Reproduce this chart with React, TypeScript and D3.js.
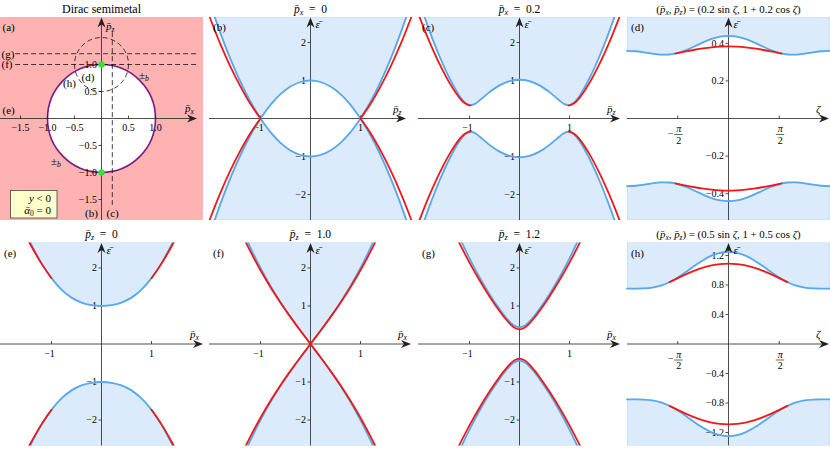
import React from 'react';
import * as d3 from 'd3';

type Pt = [number, number];

// ================= DATA =================
// (b) p̄x = 0 : bulk band edge and surface band vs p̄z (p̄z >= 0 half)
const bInnerPz = [0, 0.2, 0.4, 0.6, 0.8, 1.0];
const bInnerE = [1.0, 0.96, 0.84, 0.64, 0.36, 0.0];
const bOuterPz = [1.0, 1.2, 1.4, 1.6, 1.8, 2.0, 2.1];
const bOuterE = [0.0, 0.44, 0.96, 1.56, 2.24, 3.0, 3.41];
const bSurfPz = [1.0, 1.2, 1.4, 1.6, 1.8, 2.0, 2.1];
const bSurfE = [0.0, 0.38, 0.84, 1.36, 1.95, 2.61, 2.97];

// (c) p̄x = 0.2
const cPz = [0, 0.2, 0.4, 0.6, 0.8, 0.9, 1.0, 1.1, 1.2, 1.4, 1.6, 1.8, 2.0, 2.1];
const cE = [1.02, 0.983, 0.872, 0.693, 0.472, 0.378, 0.349, 0.427, 0.592, 1.058, 1.637, 2.306, 3.06, 3.467];
const cSurfPz = [0.98, 1.0, 1.1, 1.2, 1.4, 1.6, 1.8, 2.0, 2.1];
const cSurfE = [0.346, 0.348, 0.409, 0.543, 0.938, 1.437, 2.018, 2.673, 3.028];

// (d) loop of radius 0.2 around the node, vs ζ (ζ >= 0 half)
const zeta = [0, 0.2618, 0.5236, 0.7854, 1.0472, 1.309, 1.5708, 1.8326, 2.0944, 2.3562, 2.618, 2.8798, 3.1416];
const dE = [0.44, 0.4357, 0.4234, 0.4052, 0.3842, 0.3641, 0.3487, 0.3406, 0.34, 0.345, 0.352, 0.3578, 0.36];
const dSurfZeta = [0, 0.2618, 0.5236, 0.7854, 1.0472, 1.309, 1.5708, 1.64];
const dSurfE = [0.3836, 0.3824, 0.3788, 0.3731, 0.3658, 0.3573, 0.3481, 0.3457];

// (e) p̄z = 0, vs p̄x
const ePx = [0, 0.2, 0.4, 0.6, 0.8, 1.0, 1.2, 1.4, 1.45];
const eE = [1.0, 1.021, 1.089, 1.22, 1.432, 1.732, 2.125, 2.608, 2.743];
const eSurfPx = [1.0, 1.2, 1.4, 1.45];
const eSurfE = [1.732, 2.114, 2.565, 2.689];

// (f) p̄z = 1.0
const fPx = [0, 0.2, 0.4, 0.6, 0.8, 1.0, 1.2, 1.3];
const fE = [0, 0.349, 0.711, 1.1, 1.526, 2.0, 2.529, 2.815];
const fSurfE = [0, 0.348, 0.707, 1.086, 1.494, 1.939, 2.428, 2.691];

// (g) p̄z = 1.2
const gPx = [0, 0.1, 0.2, 0.3, 0.4, 0.6, 0.8, 1.0, 1.22];
const gE = [0.44, 0.482, 0.592, 0.742, 0.917, 1.312, 1.757, 2.253, 2.861];
const gSurfE = [0.384, 0.429, 0.543, 0.695, 0.868, 1.252, 1.675, 2.139, 2.7];

// (h) loop of radius 0.5 around the node, vs ζ
const hE = [1.25, 1.2364, 1.1971, 1.1362, 1.0607, 0.9791, 0.9014, 0.8366, 0.7906, 0.7641, 0.753, 0.7501, 0.75];
const hSurfZeta = [0, 0.2618, 0.5236, 0.7854, 1.0472, 1.309, 1.5708, 1.8235];
const hSurfE = [1.0897, 1.0834, 1.0649, 1.035, 0.995, 0.9469, 0.893, 0.8385];

// ticks
const pYTicks = [-2, -1, 1, 2];
const pXTicks = [-1, 1];
const dYTicks = [-0.4, -0.2, 0.2, 0.4];
const hYTicks = [-1.2, -0.8, -0.4, 0.4, 0.8, 1.2];
const zetaTicks = [-1.5708, 1.5708];

// panel (a)
const aTicks = [-1.5, -1.0, -0.5, 0.5, 1.0];
const aCutPz = [1.2, 1.0]; // cuts (g), (f)
const aCutPx = [0.2]; // cut (c)
const aLoopR = 0.5; // loop (h)
const aNodes = [1, -1];

// ================= STYLE / LAYOUT =================
const FONT = "'Liberation Serif', 'DejaVu Serif', serif";
const BLUE = '#58a8ee';
const RED = '#f01818';
const FILL = '#dcebfb';
const FILLEDGE = '#bcd9f6';
const AXIS = '#222';
const PW = 203;
const PH = 203;
const COLS = [0, 209, 418, 627];
const ROWS = [17, 242.5];
const TICK_FS = 10;

const zip = (p: number[], e: number[]): Pt[] => p.map((v, i) => [v, e[i]] as Pt);
const mirrorLeft = (pts: Pt[]): Pt[] => pts.map(([p, e]) => [-p, e] as Pt).reverse();
const mirrorFull = (pts: Pt[]): Pt[] => [...mirrorLeft(pts.filter(([p]) => p > 0)), ...pts];
const neg = (seg: Pt[]): Pt[] => seg.map(([p, e]) => [p, -e] as Pt);

const fmt1 = d3.format('.1f');
const fmt0 = d3.format('d');

function PB({ s, after }: { s: string; after?: string }) {
  return (
    <>
      <tspan fontStyle="italic">p{'\u0304'}</tspan>
      <tspan fontStyle="italic" fontSize="70%" dy={2.2}>{s}</tspan>
      {after ? <tspan dy={-2.2}>{after}</tspan> : null}
    </>
  );
}

function Arrow({ x, y, dir }: { x: number; y: number; dir: 'r' | 'u' }) {
  const d =
    dir === 'r'
      ? `M${x},${y}L${x - 10},${y - 4}L${x - 7},${y}L${x - 10},${y + 4}Z`
      : `M${x},${y}L${x - 4},${y + 10}L${x},${y + 7}L${x + 4},${y + 10}Z`;
  return <path d={d} fill={AXIS} />;
}

interface BandProps {
  id: string;
  col: number;
  row: number;
  xDom: [number, number];
  yDom: [number, number];
  upper: Pt[][];
  red: Pt[][];
  xTicks: number[];
  yTicks: number[];
  fmtY: (v: number) => string;
  zetaAxis?: boolean;
  tipX: number;
  tag: string;
  title: React.ReactNode;
  titleSize: number;
  xLabel: React.ReactNode;
}

function Band(p: BandProps) {
  const left = COLS[p.col];
  const top = ROWS[p.row];
  const x = d3.scaleLinear().domain(p.xDom).range([left, left + PW]);
  const y = d3.scaleLinear().domain(p.yDom).range([top + PH, top]);
  const line = d3
    .line<Pt>()
    .x((d) => x(d[0]))
    .y((d) => y(d[1]))
    .curve(d3.curveCatmullRom.alpha(0.5));
  const chain = (segs: Pt[][]) =>
    segs.map((s, i) => { const d = line(s) as string; return i === 0 ? d : 'L' + d.slice(1); }).join('');
  const first = p.upper[0][0][0];
  const lastSeg = p.upper[p.upper.length - 1];
  const last = lastSeg[lastSeg.length - 1][0];
  const yT = y(p.yDom[1]);
  const yB = y(p.yDom[0]);
  const lower = p.upper.map(neg);
  const redLow = p.red.map(neg);
  const fillUp = chain(p.upper) + `L${x(last)},${yT}L${x(first)},${yT}Z`;
  const fillDn = chain(lower) + `L${x(last)},${yB}L${x(first)},${yB}Z`;
  const x0 = x(0);
  const y0 = y(0);
  return (
    <g>
      <defs>
        <clipPath id={p.id + 'f'}>
          <rect x={left} y={top} width={PW} height={PH} />
        </clipPath>
        <clipPath id={p.id + 'l'}>
          <rect x={left - 8} y={top} width={PW + 16} height={PH} />
        </clipPath>
      </defs>
      <g clipPath={`url(#${p.id}f)`}>
        <path d={fillUp} fill={FILL} stroke={FILLEDGE} strokeWidth={1.2} />
        <path d={fillDn} fill={FILL} stroke={FILLEDGE} strokeWidth={1.2} />
      </g>
      {/* axes */}
      <line x1={left} x2={p.tipX - 6} y1={y0} y2={y0} stroke={AXIS} strokeWidth={0.8} />
      <line x1={x0} x2={x0} y1={top + PH} y2={top + 6} stroke={AXIS} strokeWidth={0.8} />
      {p.yTicks.map((v) => (
        <g key={'y' + v}>
          <line x1={x0 - 3} x2={x0} y1={y(v)} y2={y(v)} stroke={AXIS} strokeWidth={0.8} />
          <text x={x0 - 4.5} y={y(v) + 3.3} fontSize={TICK_FS} textAnchor="end">{p.fmtY(v)}</text>
        </g>
      ))}
      {p.xTicks.map((v) => (
        <g key={'x' + v}>
          <line x1={x(v)} x2={x(v)} y1={y0 - 3} y2={y0} stroke={AXIS} strokeWidth={0.8} />
          {p.zetaAxis ? (
            <g>
              {v < 0 && (
                <text x={x(v) - 4} y={y0 + 18} fontSize={TICK_FS} textAnchor="end">{'\u2212'}</text>
              )}
              <text x={x(v) + 1} y={y0 + 13.5} fontSize={TICK_FS} textAnchor="middle" fontStyle="italic">π</text>
              <line x1={x(v) - 3.5} x2={x(v) + 5} y1={y0 + 16} y2={y0 + 16} stroke="#000" strokeWidth={0.6} />
              <text x={x(v) + 1} y={y0 + 25} fontSize={TICK_FS} textAnchor="middle">2</text>
            </g>
          ) : (
            <text x={x(v) - (v < 0 ? 2 : 0)} y={y0 + 12.5} fontSize={TICK_FS} textAnchor="middle">{fmt0(v)}</text>
          )}
        </g>
      ))}
      {/* curves */}
      <g clipPath={`url(#${p.id}l)`} fill="none" strokeLinecap="round">
        {[...p.upper, ...lower].map((s, i) => (
          <path key={'b' + i} d={line(s) as string} stroke={BLUE} strokeWidth={1.8} />
        ))}
        {[...p.red, ...redLow].map((s, i) => (
          <path key={'r' + i} d={line(s) as string} stroke={RED} strokeWidth={1.8} />
        ))}
      </g>
      <Arrow x={p.tipX} y={y0} dir="r" />
      <Arrow x={x0} y={top + 0.5} dir="u" />
      <text x={p.tipX - 13} y={y0 - 6} fontSize={11}>{p.xLabel}</text>
      <text x={x0 + 5} y={top + 11} fontSize={11} fontStyle="italic">{'ε\u0304'}</text>
      <text x={left + PW / 2} y={top - 4.5} fontSize={p.titleSize} textAnchor="middle">{p.title}</text>
      <text x={left + 4} y={top + 14} fontSize={11}>{p.tag}</text>
    </g>
  );
}

function PanelA() {
  const left = COLS[0];
  const top = ROWS[0];
  const x = d3.scaleLinear().domain([-1.88, 1.88]).range([left, left + PW]);
  const y = d3.scaleLinear().domain([-1.88, 1.88]).range([top + PH, top]);
  const x0 = x(0);
  const y0 = y(0);
  const r1 = x(1) - x0;
  const dash = '5,3';
  return (
    <g>
      <rect x={left} y={top} width={PW} height={PH} fill="#ffb2b2" />
      <circle cx={x0} cy={y0} r={r1} fill="#fff" stroke="#7a1a8a" strokeWidth={1.6} />
      <line x1={left} x2={191} y1={y0} y2={y0} stroke={AXIS} strokeWidth={0.8} />
      <line x1={x0} x2={x0} y1={top + PH} y2={top + 6} stroke={AXIS} strokeWidth={0.8} />
      {aTicks.map((v) => (
        <g key={'ax' + v}>
          <line x1={x(v)} x2={x(v)} y1={y0 - 3} y2={y0} stroke={AXIS} strokeWidth={0.8} />
          <text x={x(v)} y={y0 + 12.5} fontSize={TICK_FS} textAnchor="middle">{fmt1(v)}</text>
          <line x1={x0 - 3} x2={x0} y1={y(v)} y2={y(v)} stroke={AXIS} strokeWidth={0.8} />
          <text x={x0 - 4.5} y={y(v) + 3.3} fontSize={TICK_FS} textAnchor="end">{fmt1(v)}</text>
        </g>
      ))}
      <g fill="none" stroke="#111" strokeWidth={0.8} strokeDasharray={dash}>
        {aCutPz.map((v) => (
          <line key={'hz' + v} x1={x(-1.6)} x2={x(1.77)} y1={y(v)} y2={y(v)} />
        ))}
        {aCutPx.map((v) => (
          <line key={'vx' + v} x1={x(v)} x2={x(v)} y1={y(1.6)} y2={y(-1.6)} />
        ))}
        <circle cx={x(0)} cy={y(1)} r={x(aLoopR) - x0} />
      </g>
      {aNodes.map((v) => (
        <circle key={'n' + v} cx={x0} cy={y(v)} r={3.2} fill="#2ee82e" />
      ))}
      <Arrow x={197} y={y0} dir="r" />
      <Arrow x={x0} y={top + 0.5} dir="u" />
      <text x={106} y={30} fontSize={11}><PB s="z" /></text>
      <text x={185} y={112} fontSize={11}><PB s="x" /></text>
      <text x={x0} y={13} fontSize={12} textAnchor="middle">Dirac semimetal</text>
      <g fontSize={11}>
        <text x={2.5} y={31}>(a)</text>
        <text x={1.5} y={y(1.2) + 3.8}>(g)</text>
        <text x={1.5} y={y(1.0) + 3.8}>(f)</text>
        <text x={2.5} y={y0 - 5}>(e)</text>
        <text x={63} y={87}>(h)</text>
        <text x={81.5} y={80.5}>(d)</text>
        <text x={85} y={216.5}>(b)</text>
        <text x={106.5} y={216.5}>(c)</text>
        <text x={139} y={79}>±<tspan fontStyle="italic" fontSize="70%" dy={2}>b</tspan></text>
        <text x={51} y={165}>±<tspan fontStyle="italic" fontSize="70%" dy={2}>b</tspan></text>
      </g>
      <rect x={10.5} y={190.5} width={46.5} height={27.5} fill="#ffffcc" stroke="#444" strokeWidth={0.8} />
      <text x={51} y={201.5} fontSize={11} textAnchor="end">
        <tspan fontStyle="italic">y</tspan> {'<'} 0
      </text>
      <text x={51} y={214} fontSize={11} textAnchor="end">
        <tspan fontStyle="italic">α{'\u0304'}</tspan>
        <tspan fontSize="70%" dy={2}>0</tspan>
        <tspan dy={-2}> = 0</tspan>
      </text>
    </g>
  );
}

const PDOM: [number, number] = [-2.03, 2.03];
const EDOM: [number, number] = [-2.67, 2.67];
const ZDOM: [number, number] = [-3.1416, 3.1416];

const bOuter = zip(bOuterPz, bOuterE);
const bSurf = zip(bSurfPz, bSurfE);
const cSurf = zip(cSurfPz, cSurfE);
const eSurf = zip(eSurfPx, eSurfE);
const fBulk = zip(fPx, fE);
const fSurf = zip(fPx, fSurfE);

const loopTitle = (r: string) => (
  <>
    <tspan>(</tspan>
    <PB s="x" after=", " />
    <PB s="z" after={`) = (${r} sin `} />
    <tspan fontStyle="italic">ζ</tspan>
    <tspan>{`, 1 + ${r} cos `}</tspan>
    <tspan fontStyle="italic">ζ</tspan>
    <tspan>)</tspan>
  </>
);

const panels: BandProps[] = [
  {
    id: 'pb', col: 1, row: 0, xDom: PDOM, yDom: EDOM,
    upper: [mirrorLeft(bOuter), mirrorFull(zip(bInnerPz, bInnerE)), bOuter],
    red: [mirrorLeft(bSurf), bSurf],
    xTicks: pXTicks, yTicks: pYTicks, fmtY: fmt0, tipX: 406, tag: '(b)',
    title: <PB s="x" after={'\u2002=\u20020'} />, titleSize: 11.5, xLabel: <PB s="z" />,
  },
  {
    id: 'pc', col: 2, row: 0, xDom: PDOM, yDom: EDOM,
    upper: [mirrorFull(zip(cPz, cE))],
    red: [mirrorLeft(cSurf), cSurf],
    xTicks: pXTicks, yTicks: pYTicks, fmtY: fmt0, tipX: 620, tag: '(c)',
    title: <PB s="x" after={'\u2002=\u20020.2'} />, titleSize: 11.5, xLabel: <PB s="z" />,
  },
  {
    id: 'pd', col: 3, row: 0, xDom: ZDOM, yDom: [-0.54, 0.54],
    upper: [mirrorFull(zip(zeta, dE))],
    red: [mirrorFull(zip(dSurfZeta, dSurfE))],
    xTicks: zetaTicks, yTicks: dYTicks, fmtY: fmt1, zetaAxis: true, tipX: 829, tag: '(d)',
    title: loopTitle('0.2'), titleSize: 10.8,
    xLabel: <tspan fontStyle="italic">ζ</tspan>,
  },
  {
    id: 'pe', col: 0, row: 1, xDom: PDOM, yDom: EDOM,
    upper: [mirrorFull(zip(ePx, eE))],
    red: [mirrorLeft(eSurf), eSurf],
    xTicks: pXTicks, yTicks: pYTicks, fmtY: fmt0, tipX: 203, tag: '(e)',
    title: <PB s="z" after={'\u2002=\u20020'} />, titleSize: 11.5, xLabel: <PB s="x" />,
  },
  {
    id: 'pf', col: 1, row: 1, xDom: PDOM, yDom: EDOM,
    upper: [mirrorLeft(fBulk), fBulk],
    red: [mirrorLeft(fSurf), fSurf],
    xTicks: pXTicks, yTicks: pYTicks, fmtY: fmt0, tipX: 411, tag: '(f)',
    title: <PB s="z" after={'\u2002=\u20021.0'} />, titleSize: 11.5, xLabel: <PB s="x" />,
  },
  {
    id: 'pg', col: 2, row: 1, xDom: PDOM, yDom: EDOM,
    upper: [mirrorFull(zip(gPx, gE))],
    red: [mirrorFull(zip(gPx, gSurfE))],
    xTicks: pXTicks, yTicks: pYTicks, fmtY: fmt0, tipX: 620, tag: '(g)',
    title: <PB s="z" after={'\u2002=\u20021.2'} />, titleSize: 11.5, xLabel: <PB s="x" />,
  },
  {
    id: 'ph', col: 3, row: 1, xDom: ZDOM, yDom: [-1.376, 1.376],
    upper: [mirrorFull(zip(zeta, hE))],
    red: [mirrorFull(zip(hSurfZeta, hSurfE))],
    xTicks: zetaTicks, yTicks: hYTicks, fmtY: fmt1, zetaAxis: true, tipX: 829, tag: '(h)',
    title: loopTitle('0.5'), titleSize: 10.8,
    xLabel: <tspan fontStyle="italic">ζ</tspan>,
  },
];

export default function App() {
  return (
    <svg
      width={830}
      height={449}
      viewBox="0 0 830 449"
      style={{ position: 'absolute', left: 0, top: 0, background: '#fff' }}
      fontFamily={FONT}
    >
      <PanelA />
      {panels.map((p) => (
        <Band key={p.id} {...p} />
      ))}
    </svg>
  );
}
